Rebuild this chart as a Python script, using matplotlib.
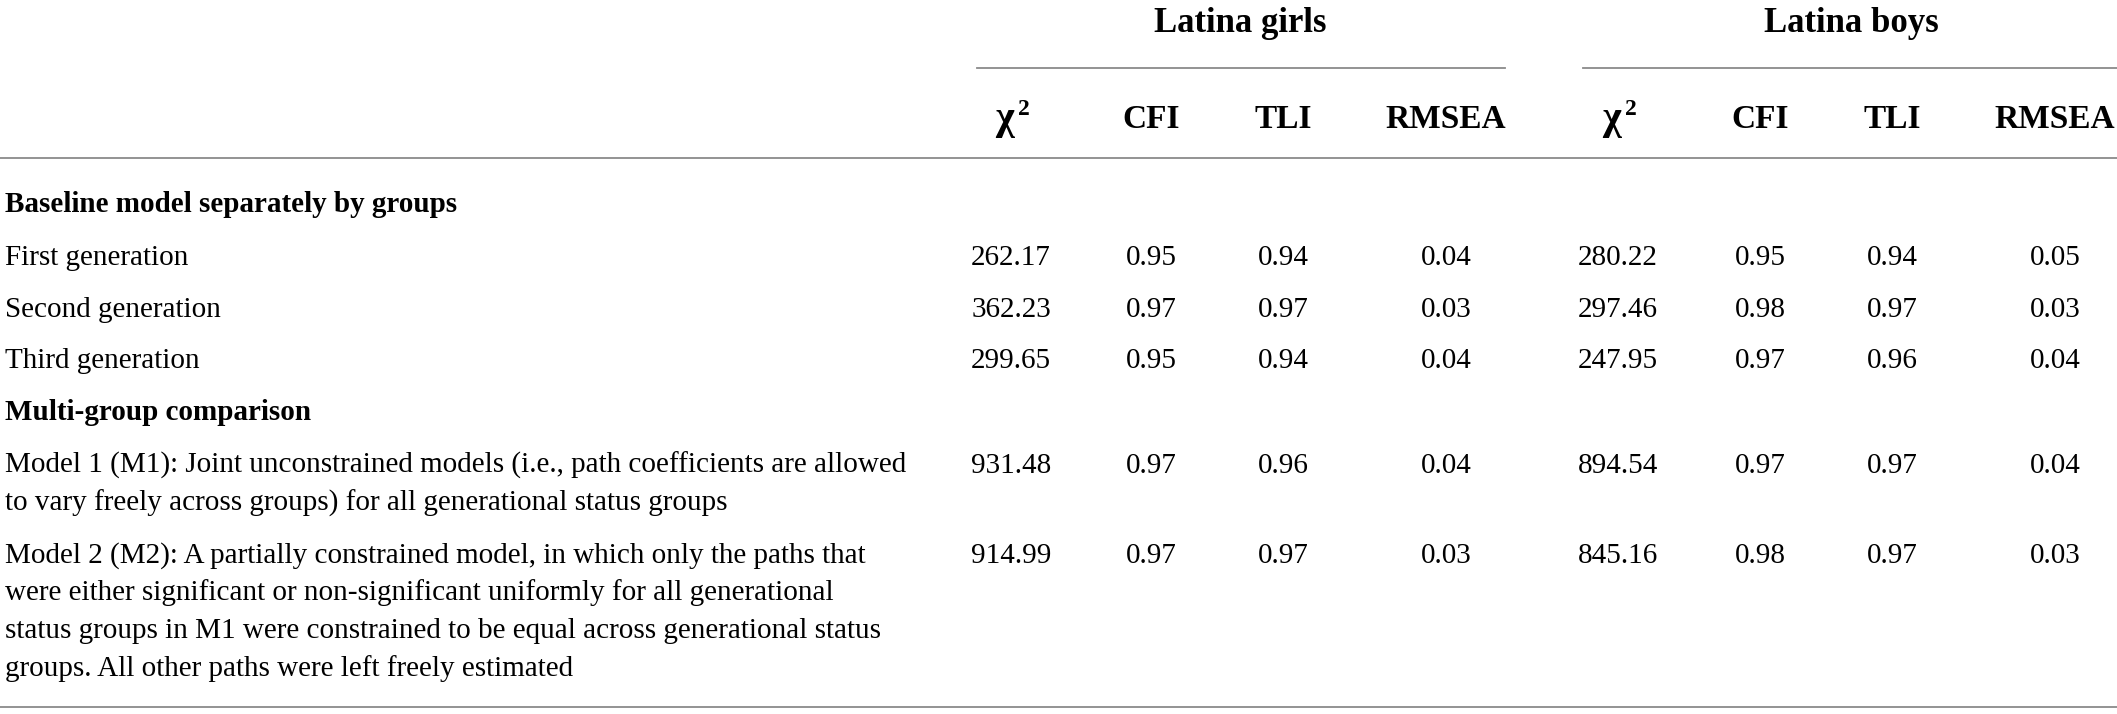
import matplotlib
matplotlib.use("Agg")
import matplotlib.pyplot as plt
from matplotlib.lines import Line2D

plt.rcParams['font.family'] = ['Liberation Serif', 'DejaVu Serif']

# ---------------- data ----------------
group_labels = ["Latina girls", "Latina boys"]
metric_labels = ["CFI", "TLI", "RMSEA"]
section_labels = ["Baseline model separately by groups", "Multi-group comparison"]
row_labels = [
    ["First generation"],
    ["Second generation"],
    ["Third generation"],
    ["Model 1 (M1): Joint unconstrained models (i.e., path coefficients are allowed",
     "to vary freely across groups) for all generational status groups"],
    ["Model 2 (M2): A partially constrained model, in which only the paths that",
     "were either significant or non-significant uniformly for all generational",
     "status groups in M1 were constrained to be equal across generational status",
     "groups. All other paths were left freely estimated"],
]
girls_chi2 = [262.17, 362.23, 299.65, 931.48, 914.99]
girls_cfi = [0.95, 0.97, 0.95, 0.97, 0.97]
girls_tli = [0.94, 0.97, 0.94, 0.96, 0.97]
girls_rmsea = [0.04, 0.03, 0.04, 0.04, 0.03]
boys_chi2 = [280.22, 297.46, 247.95, 894.54, 845.16]
boys_cfi = [0.95, 0.98, 0.97, 0.97, 0.98]
boys_tli = [0.94, 0.97, 0.96, 0.97, 0.97]
boys_rmsea = [0.05, 0.03, 0.04, 0.04, 0.03]

# ---------------- layout (pixels) ----------------
W, H = 2117, 714
fig = plt.figure(figsize=(W / 100, H / 100), dpi=100)
fig.patch.set_facecolor("white")

def fx(x):
    return x / W

def fy(y):
    return 1 - y / H

BODY = 21
HEAD = 24
GROUP = 25
LINE_COLOR = "#8a8a8a"
LW = 1.3

def hline(x0, x1, y):
    fig.add_artist(Line2D([fx(x0), fx(x1)], [fy(y), fy(y)], color=LINE_COLOR,
                          lw=LW, transform=fig.transFigure))

col_centers = [1011, 1151, 1283, 1446, 1618, 1760, 1892, 2055]
group_centers = [1240, 1851]
group_spans = [(977, 1505), (1583, 2117)]

# group header
for lab, cx, (a, b) in zip(group_labels, group_centers, group_spans):
    fig.text(fx(cx), fy(32), lab, ha="center", va="baseline",
             fontsize=GROUP, fontweight="bold")
    hline(a, b, 68)

# column headers
for g in range(2):
    base = g * 4
    cx = col_centers[base]
    fig.text(fx(cx - 7), fy(129), "χ", ha="center", va="baseline",
             fontsize=29, fontweight="bold")
    fig.text(fx(cx + 7), fy(115), "2", ha="left", va="baseline",
             fontsize=17, fontweight="bold")
    for k, m in enumerate(metric_labels):
        fig.text(fx(col_centers[base + 1 + k]), fy(128), m, ha="center",
                 va="baseline", fontsize=HEAD, fontweight="bold")

hline(0, W, 158)

# section labels
section_y = [212, 420]
for lab, y in zip(section_labels, section_y):
    fig.text(fx(5), fy(y), lab, ha="left", va="baseline",
             fontsize=BODY, fontweight="bold")

# body rows
row_y = [265, 317, 368, 473, 563]
line_step = 37.5
columns = [girls_chi2, girls_cfi, girls_tli, girls_rmsea,
           boys_chi2, boys_cfi, boys_tli, boys_rmsea]
for i, (lines, y) in enumerate(zip(row_labels, row_y)):
    for j, txt in enumerate(lines):
        fig.text(fx(5), fy(y + j * line_step), txt, ha="left", va="baseline",
                 fontsize=BODY)
    for c, vals in enumerate(columns):
        fig.text(fx(col_centers[c]), fy(y), f"{vals[i]:.2f}", ha="center",
                 va="baseline", fontsize=BODY)

hline(0, W, 707)

fig.savefig("out.png", dpi=100, facecolor="white")
